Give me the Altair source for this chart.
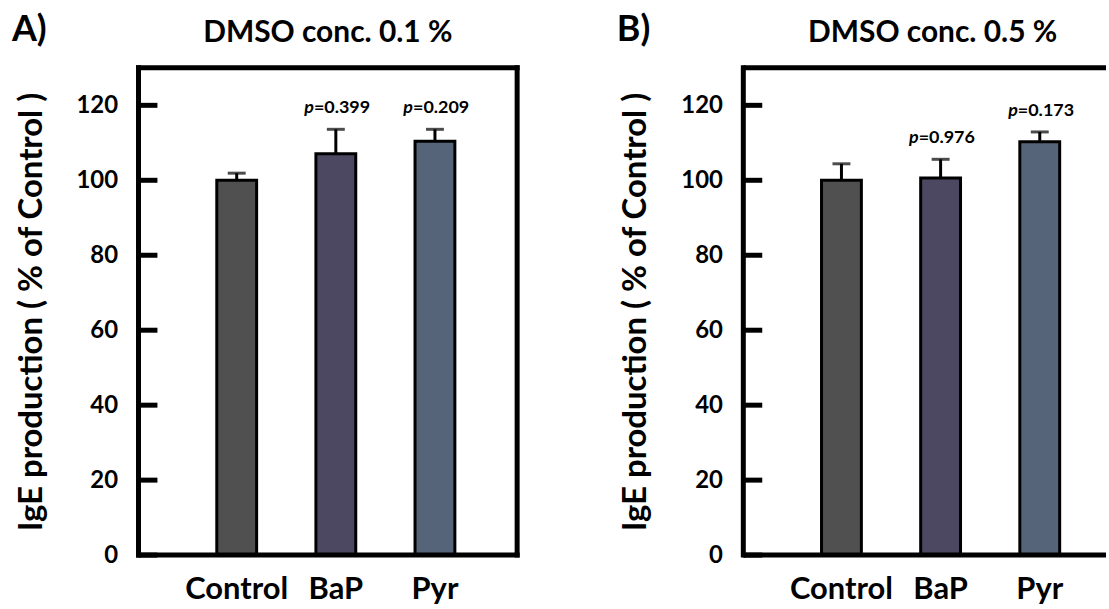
import altair as alt
import pandas as pd

FONT = "Lato"

categories = ["Control", "BaP", "Pyr"]
bar_colors = ["#505050", "#4d4862", "#56647a"]
y_ticks = [0, 20, 40, 60, 80, 100, 120]

mean_a = [100.0, 107.1, 110.4]
sd_a = [1.9, 6.5, 3.2]
p_a = ["", "=0.399", "=0.209"]

mean_b = [100.0, 100.6, 110.3]
sd_b = [4.4, 5.0, 2.6]
p_b = ["", "=0.976", "=0.173"]

titles = ["DMSO conc. 0.1 %", "DMSO conc. 0.5 %"]
panel_labels = ["A)", "B)"]
y_title = "IgE production ( % of Control )"

H = 489


def panel(mean, sd, plab, title, label, width, po, align, right_border):
    df = pd.DataFrame({
        "group": categories,
        "mean": mean,
        "upper": [m + s for m, s in zip(mean, sd)],
        "p": plab,
    })
    base = alt.Chart(df)
    yscale = alt.Scale(domain=[0, 130], nice=False, zero=True)
    yaxis = alt.Axis(values=y_ticks, domain=False, ticks=False, grid=False,
                     labelFont=FONT, labelFontSize=24, labelFontWeight="bold",
                     labelColor="black", labelPadding=21,
                     title=y_title, titleFont=FONT, titleFontSize=33,
                     titleFontWeight="bold", titleColor="black",
                     titlePadding=28)
    xscale = alt.Scale(paddingInner=0.598, paddingOuter=po, align=align)
    xaxis = alt.Axis(title=None, domain=False, ticks=False, labelAngle=0,
                     labelFont=FONT, labelFontSize=31, labelFontWeight="bold",
                     labelColor="black", labelPadding=20)

    def X():
        return alt.X("group:N", sort=categories, scale=xscale, axis=xaxis)

    def Y(field):
        return alt.Y(field, scale=yscale, axis=yaxis)

    bars = base.mark_bar(stroke="black", strokeWidth=3).encode(
        x=X(),
        y=Y("mean:Q"),
        color=alt.Color("group:N", scale=alt.Scale(domain=categories, range=bar_colors),
                        legend=None),
    )
    err = base.mark_rule(color="black", strokeWidth=3).encode(
        x=X(), y=Y("mean:Q"), y2="upper:Q",
    )
    cap = base.mark_tick(color="black", size=18, thickness=3).encode(
        x=X(), y=Y("upper:Q"),
    )
    ptxt = base.transform_filter("datum.p != ''")
    p_italic = ptxt.mark_text(font=FONT, fontSize=18, fontWeight="bold", fontStyle="italic",
                              align="right", baseline="middle", dx=-22, dy=-21,
                              color="black").encode(
        x=X(), y=Y("upper:Q"), text=alt.value("p"),
    )
    p_rest = ptxt.mark_text(font=FONT, fontSize=18, fontWeight="bold",
                            align="left", baseline="middle", dx=-22, dy=-21,
                            color="black").encode(
        x=X(), y=Y("upper:Q"), text="p:N",
    )
    ticks = alt.Chart(pd.DataFrame({"v": y_ticks})).mark_rule(
        color="black", strokeWidth=5).encode(
        y=Y("v:Q"), x=alt.value(0), x2=alt.value(19))

    fdf = alt.Chart(pd.DataFrame({"k": [0]}))
    endcap = "square" if right_border else "butt"
    frame = [
        fdf.mark_rule(color="black", strokeWidth=5, strokeCap="square").encode(
            x=alt.value(0), y=alt.value(0), y2=alt.value(H)),
        fdf.mark_rule(color="black", strokeWidth=5, strokeCap=endcap).encode(
            x=alt.value(0), x2=alt.value(width), y=alt.value(0)),
        fdf.mark_rule(color="black", strokeWidth=5, strokeCap=endcap).encode(
            x=alt.value(0), x2=alt.value(width), y=alt.value(H)),
    ]
    if right_border:
        frame.append(fdf.mark_rule(color="black", strokeWidth=5, strokeCap="square").encode(
            x=alt.value(width), y=alt.value(0), y2=alt.value(H)))

    tdf = alt.Chart(pd.DataFrame({"t": [title], "l": [label]}))
    ttl = tdf.mark_text(font=FONT, fontSize=30, fontWeight="bold", align="center",
                        baseline="middle", color="black").encode(
        text="t:N", x=alt.value(190), y=alt.value(-35))
    lab = tdf.mark_text(font=FONT, fontSize=36, fontWeight="bold", align="left",
                        baseline="middle", color="black").encode(
        text="l:N", x=alt.value(-127), y=alt.value(-38))

    return alt.layer(bars, err, cap, ticks, *frame, p_italic, p_rest, ttl, lab).properties(
        width=width, height=H)


pa = panel(mean_a, sd_a, p_a, titles[0], panel_labels[0], 380, 0.709, 0.557, True)
pb = panel(mean_b, sd_b, p_b, titles[1], panel_labels[1], 364, 0.628, 0.628, False)

chart = alt.hconcat(pa, pb, spacing=94).properties(
    padding={"left": 11, "top": 10, "right": 0, "bottom": 0}
).configure_view(stroke="transparent")

chart.save("out.html", embed_options={"renderer": "svg", "actions": False})
